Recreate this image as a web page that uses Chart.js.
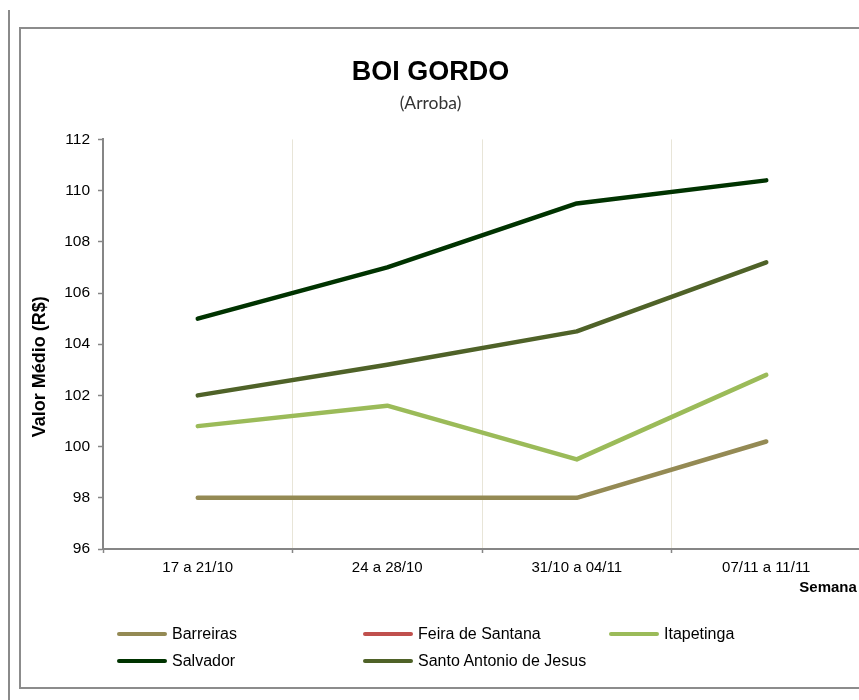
<!DOCTYPE html>
<html>
<head>
<meta charset="utf-8">
<script src="https://cdn.jsdelivr.net/npm/chart.js@4/dist/chart.umd.min.js"></script>
<style>
  html, body { margin: 0; padding: 0; background: #fff; overflow: hidden; }
  #wrap { position: relative; width: 859px; height: 700px; overflow: hidden; background: #fff; }
  #vline { position: absolute; left: 8px; top: 10px; width: 1.5px; height: 690px; background: #8a8a8a; }
  #frame { position: absolute; left: 19px; top: 27px; width: 900px; height: 662px; box-sizing: border-box; border: 2px solid #8c8c8c; }
  #c { position: absolute; left: 0; top: 0; }
  .lg-line { position: absolute; height: 4.5px; width: 50px; border-radius: 2.5px; }
  .lg-text { position: absolute; font: 16px "Liberation Sans", Arial, sans-serif; line-height: 18px; color: #000; white-space: nowrap; }
</style>
</head>
<body>
<div id="wrap">
  <div id="vline"></div>
  <div id="frame"></div>
  <canvas id="c" width="870" height="700"></canvas>
  <div id="legend"></div>
</div>
<script>
// ---- data ----
const categories = ['17 a 21/10', '24 a 28/10', '31/10 a 04/11', '07/11 a 11/11'];
const seriesNames = ['Barreiras', 'Feira de Santana', 'Itapetinga', 'Salvador', 'Santo Antonio de Jesus'];
const barreiras = [98, 98, 98, 100.2];
const feiraDeSantana = [null, null, null, null];
const itapetinga = [100.8, 101.6, 99.5, 102.8];
const salvador = [105, 107, 109.5, 110.4];
const santoAntonio = [102, 103.2, 104.5, 107.2];
const yMin = 96, yMax = 112, yStep = 2;
const seriesColors = ['#948A54', '#C0504D', '#9BBB59', '#003300', '#4F6228'];
const chartTitle = 'BOI GORDO';
const chartSubtitle = '(Arroba)';
const yTitle = 'Valor Médio (R$)';
const xTitle = 'Semana';

const seriesData = [barreiras, feiraDeSantana, itapetinga, salvador, santoAntonio];
const ARIAL = '"Liberation Sans", Arial, sans-serif';

const datasets = seriesNames.map((name, i) => ({
  label: name,
  data: seriesData[i],
  borderColor: seriesColors[i],
  backgroundColor: seriesColors[i],
  borderWidth: 4.5,
  borderCapStyle: 'round',
  borderJoinStyle: 'round',
  pointRadius: 0,
  pointHoverRadius: 0,
  tension: 0,
  fill: false
}));

new Chart(document.getElementById('c'), {
  type: 'line',
  data: { labels: categories, datasets },
  options: {
    responsive: false,
    animation: false,
    devicePixelRatio: 1,
    layout: { padding: { left: 0, right: 9, top: 0, bottom: 108 } },
    plugins: {
      legend: { display: false },
      tooltip: { enabled: false },
      title: {
        display: true,
        text: chartTitle,
        color: '#000',
        font: { family: ARIAL, size: 27, weight: 'bold', lineHeight: 1.2 },
        padding: { top: 56, bottom: 0 }
      },
      subtitle: {
        display: true,
        text: chartSubtitle,
        color: '#333',
        font: { family: 'Lato, "Open Sans", sans-serif', size: 17.5, lineHeight: 1.2 },
        padding: { top: 4, bottom: 26 }
      }
    },
    scales: {
      x: {
        type: 'category',
        offset: true,
        grid: {
          display: true,
          offset: true,
          drawOnChartArea: true,
          color: '#E8E5D8',
          lineWidth: 1,
          drawTicks: true,
          tickLength: 4,
          tickColor: '#868686',
          tickWidth: 1.5
        },
        border: { display: true, color: '#868686', width: 2 },
        ticks: {
          color: '#000',
          font: { family: ARIAL, size: 15, lineHeight: 1.2 },
          padding: 6,
          maxRotation: 0,
          autoSkip: false
        },
        title: {
          display: true,
          text: xTitle + ' ',
          align: 'end',
          color: '#000',
          font: { family: ARIAL, size: 15, weight: 'bold', lineHeight: 0.6 },
          padding: { top: 0, bottom: 0 }
        }
      },
      y: {
        min: yMin,
        max: yMax,
        afterFit: (scale) => { scale.width = 103; },
        grid: {
          display: true,
          drawOnChartArea: false,
          drawTicks: true,
          tickLength: 5,
          tickColor: '#868686',
          tickWidth: 1.5
        },
        border: { display: true, color: '#868686', width: 2 },
        ticks: {
          stepSize: yStep,
          color: '#000',
          font: { family: ARIAL, size: 15.5, lineHeight: 1.2 },
          padding: 8
        },
        title: {
          display: true,
          text: yTitle + '         ',
          color: '#000',
          font: { family: ARIAL, size: 18, weight: 'bold', lineHeight: 1.2 },
          padding: { top: 29, bottom: 0 }
        }
      }
    }
  }
});

// ---- legend (HTML, built from series arrays) ----
const legend = document.getElementById('legend');
seriesNames.forEach((name, i) => {
  const col = i % 3, row = Math.floor(i / 3);
  const left = 117 + col * 246;
  const cy = 634 + row * 27;
  const line = document.createElement('div');
  line.className = 'lg-line';
  line.style.left = left + 'px';
  line.style.top = (cy - 2.25) + 'px';
  line.style.background = seriesColors[i];
  const txt = document.createElement('div');
  txt.className = 'lg-text';
  txt.style.left = (left + 55) + 'px';
  txt.style.top = (cy - 9.5) + 'px';
  txt.textContent = name;
  legend.appendChild(line);
  legend.appendChild(txt);
});
</script>
</body>
</html>
